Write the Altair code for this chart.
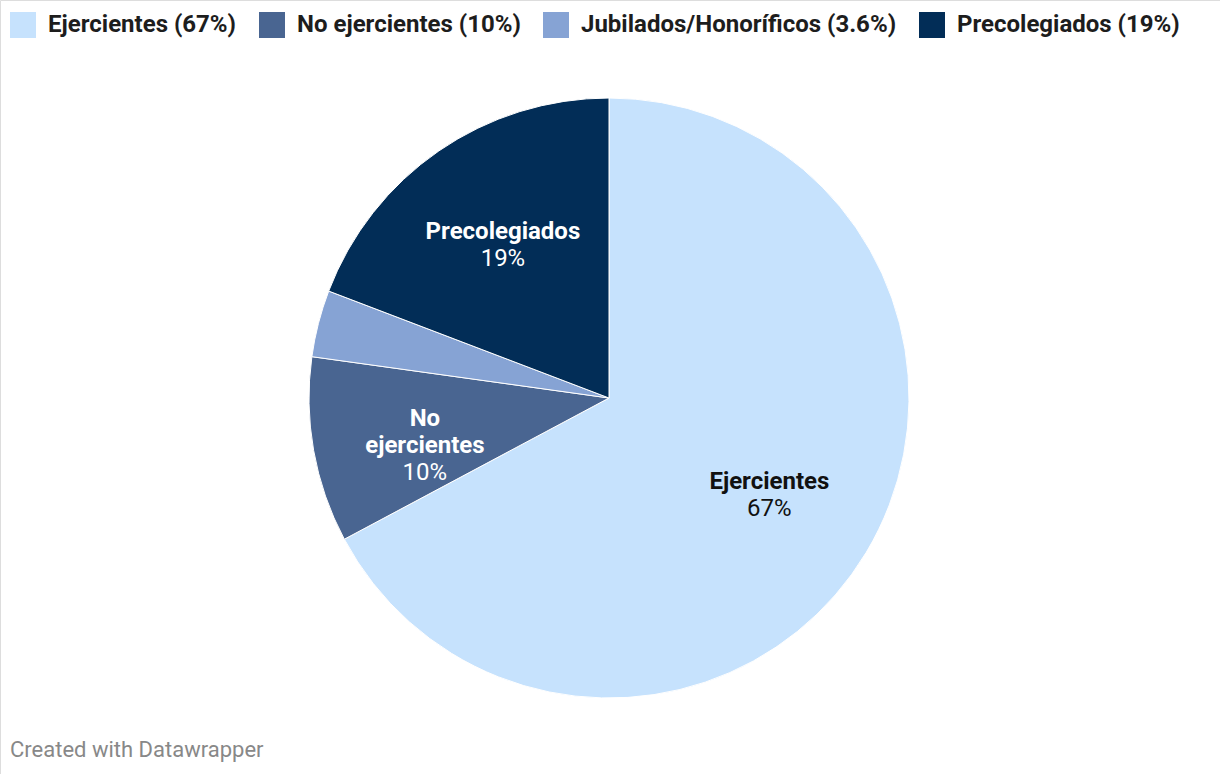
import altair as alt
import pandas as pd

categories = ["Ejercientes", "No ejercientes", "Jubilados/Honoríficos", "Precolegiados"]
values = [67.2, 10.0, 3.6, 19.2]
pct_labels = ["67%", "10%", "3.6%", "19%"]
slice_names = ["Ejercientes", "No\nejercientes", "", "Precolegiados"]
label_colors = ["#111111", "#ffffff", "#ffffff", "#ffffff"]
colors = ["#c6e2fd", "#496591", "#86a3d4", "#022d57"]

legend_labels = [f"{c} ({p})" for c, p in zip(categories, pct_labels)]
name_lines = [(n.count("\n") + 1) if n else 0 for n in slice_names]
pct_text = [p if n else "" for n, p in zip(slice_names, pct_labels)]

df = pd.DataFrame({
    "cat": categories,
    "value": values,
    "order": list(range(len(categories))),
    "legend": legend_labels,
    "name": slice_names,
    "nlines": name_lines,
    "pct": pct_text,
    "tcolor": label_colors,
})

CX, CY = 609, 398
FS = 24
LH = 27
DY0 = -5

base = alt.Chart(df).encode(
    theta=alt.Theta("value:Q", stack=True),
    order=alt.Order("order:Q"),
    x=alt.value(CX),
    y=alt.value(CY),
)

pie = base.mark_arc(outerRadius=300, stroke="white", strokeWidth=1).encode(
    color=alt.Color(
        "legend:N",
        scale=alt.Scale(domain=legend_labels, range=colors),
        legend=alt.Legend(
            title=None,
            orient="none",
            legendX=10,
            legendY=12,
            direction="horizontal",
            symbolType="square",
            symbolSize=676,
            symbolStrokeWidth=0,
            symbolOpacity=1,
            labelFont="Roboto",
            labelFontSize=FS,
            labelFontWeight="bold",
            labelColor="#1d1d1d",
            labelOffset=12,
            columnPadding=22,
            labelLimit=500,
        ),
    )
)

names = base.mark_text(
    radius=187, font="Roboto", fontSize=FS, fontWeight="bold",
    baseline="alphabetic", dy=DY0, lineBreak="\n", lineHeight=LH,
).encode(text="name:N", color=alt.Color("tcolor:N", scale=None))

pct_layers = []
for k in (1, 2):
    pct_layers.append(
        base.mark_text(
            radius=187, font="Roboto", fontSize=FS, fontWeight="normal",
            baseline="alphabetic", dy=DY0 + k * LH,
        ).encode(
            text="pct:N",
            color=alt.Color("tcolor:N", scale=None),
            opacity=alt.condition(f"datum.nlines == {k}", alt.value(1), alt.value(0)),
        )
    )

footer = alt.Chart(pd.DataFrame({"t": ["Created with Datawrapper"]})).mark_text(
    align="left", baseline="alphabetic", font="Roboto", fontSize=22, color="#888888"
).encode(x=alt.value(10), y=alt.value(757), text="t:N")

chart = alt.layer(pie, names, *pct_layers, footer).properties(
    width=1220, height=774, autosize=alt.AutoSizeParams(type="none"), padding=0
).configure_view(stroke=None).configure(background="white")

chart.save("out.html", embed_options={"renderer": "svg", "actions": False})
